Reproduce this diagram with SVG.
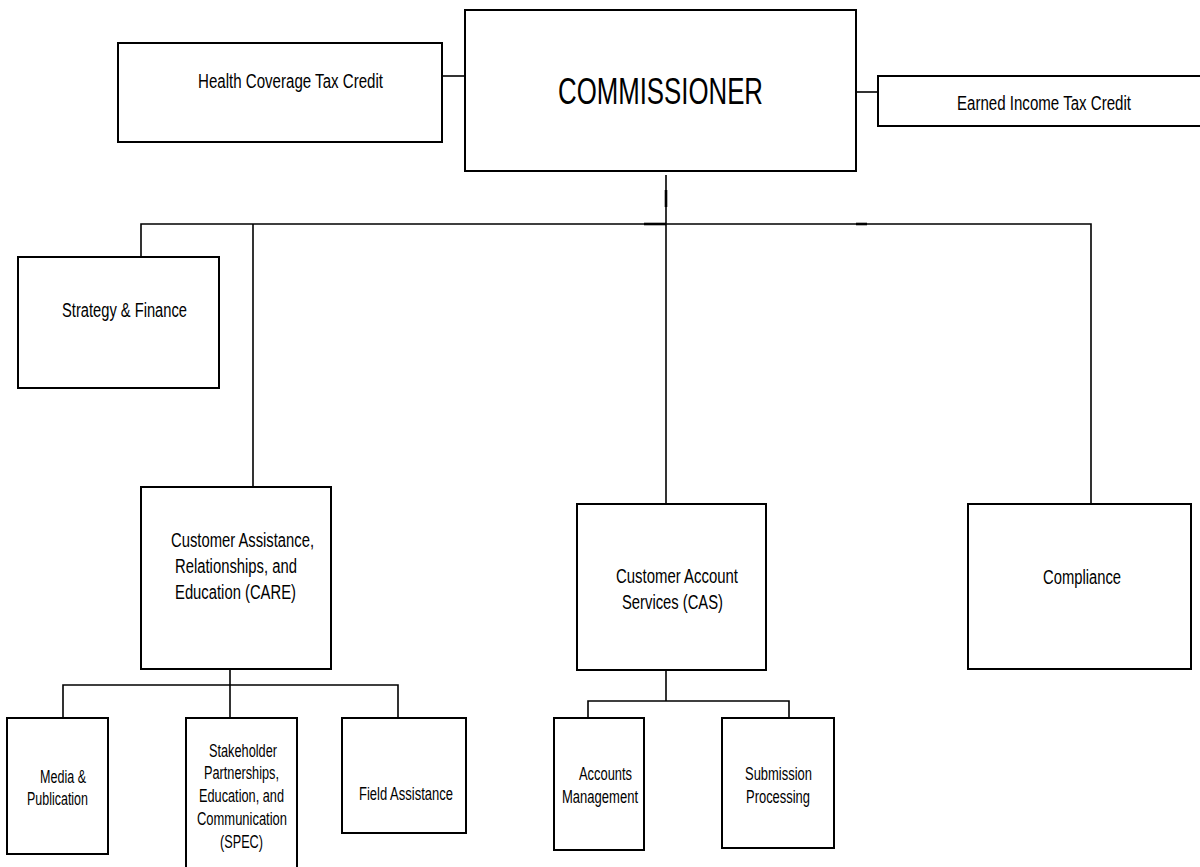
<svg xmlns="http://www.w3.org/2000/svg" width="1200" height="867" viewBox="0 0 1200 867">
<style>
.box{fill:#fff;stroke:#000;stroke-width:2}
.ln{fill:none;stroke:#000;stroke-width:1.6}
.tk{fill:none;stroke:#000;stroke-width:2.6}
text{font-family:"Liberation Sans",Arial,sans-serif;fill:#000}
.t20{font-size:20px}
.t17{font-size:17.5px}
.big{font-size:37px}
</style>
<rect width="1200" height="867" fill="#fff"/>
<g id="connectors">
<line class="ln" x1="442" y1="76" x2="466" y2="76"/>
<line class="ln" x1="856" y1="92" x2="878" y2="92"/>
<line class="ln" x1="666" y1="175" x2="666" y2="504"/>
<polyline class="ln" points="141,257 141,224 1091,224 1091,504"/>
<line class="tk" x1="644" y1="224" x2="666" y2="224"/>
<line class="tk" x1="856" y1="224" x2="867" y2="224"/>
<line class="tk" x1="666" y1="190" x2="666" y2="207"/>
<line class="ln" x1="253" y1="224" x2="253" y2="487"/>
<line class="ln" x1="230" y1="669" x2="230" y2="718"/>
<polyline class="ln" points="63,718 63,685 398,685 398,718"/>
<line class="ln" x1="666" y1="670" x2="666" y2="701"/>
<polyline class="ln" points="588,718 588,701 789,701 789,718"/>
</g>
<g id="hctc">
<rect class="box" x="118" y="43" width="324" height="99"/>
<text class="t20" x="198" y="88" textLength="185" lengthAdjust="spacingAndGlyphs">Health Coverage Tax Credit</text>
</g>
<g id="commissioner">
<rect class="box" x="465" y="10" width="391" height="161"/>
<text class="big" x="558" y="104" textLength="205" lengthAdjust="spacingAndGlyphs">COMMISSIONER</text>
</g>
<g id="eitc">
<rect class="box" x="878" y="76" width="330" height="50"/>
<text class="t20" x="957" y="110" textLength="174" lengthAdjust="spacingAndGlyphs">Earned Income Tax Credit</text>
</g>
<g id="strategy">
<rect class="box" x="18" y="257" width="201" height="131"/>
<text class="t20" x="62" y="317" textLength="125" lengthAdjust="spacingAndGlyphs">Strategy &amp; Finance</text>
</g>
<g id="care">
<rect class="box" x="141" y="487" width="190" height="182"/>
<text class="t20" x="171" y="547" textLength="143" lengthAdjust="spacingAndGlyphs">Customer Assistance,</text>
<text class="t20" x="175" y="573" textLength="122" lengthAdjust="spacingAndGlyphs">Relationships, and</text>
<text class="t20" x="175" y="599" textLength="121" lengthAdjust="spacingAndGlyphs">Education (CARE)</text>
</g>
<g id="cas">
<rect class="box" x="577" y="504" width="189" height="166"/>
<text class="t20" x="616" y="583" textLength="122" lengthAdjust="spacingAndGlyphs">Customer Account</text>
<text class="t20" x="622" y="609" textLength="101" lengthAdjust="spacingAndGlyphs">Services (CAS)</text>
</g>
<g id="compliance">
<rect class="box" x="968" y="504" width="223" height="165"/>
<text class="t20" x="1043" y="584" textLength="78" lengthAdjust="spacingAndGlyphs">Compliance</text>
</g>
<g id="media">
<rect class="box" x="7" y="718" width="101" height="136"/>
<text class="t17" x="40" y="783" textLength="46" lengthAdjust="spacingAndGlyphs">Media &amp;</text>
<text class="t17" x="27" y="805" textLength="61" lengthAdjust="spacingAndGlyphs">Publication</text>
</g>
<g id="spec">
<rect class="box" x="186" y="718" width="111" height="160"/>
<text class="t17" x="209" y="757" textLength="68" lengthAdjust="spacingAndGlyphs">Stakeholder</text>
<text class="t17" x="204" y="779" textLength="75" lengthAdjust="spacingAndGlyphs">Partnerships,</text>
<text class="t17" x="199" y="802" textLength="85" lengthAdjust="spacingAndGlyphs">Education, and</text>
<text class="t17" x="197" y="825" textLength="90" lengthAdjust="spacingAndGlyphs">Communication</text>
<text class="t17" x="220" y="848" textLength="43" lengthAdjust="spacingAndGlyphs">(SPEC)</text>
</g>
<g id="field">
<rect class="box" x="342" y="718" width="124" height="115"/>
<text class="t17" x="359" y="800" textLength="94" lengthAdjust="spacingAndGlyphs">Field Assistance</text>
</g>
<g id="accounts">
<rect class="box" x="554" y="718" width="90" height="132"/>
<text class="t17" x="579" y="780" textLength="53" lengthAdjust="spacingAndGlyphs">Accounts</text>
<text class="t17" x="562" y="803" textLength="76" lengthAdjust="spacingAndGlyphs">Management</text>
</g>
<g id="submission">
<rect class="box" x="722" y="718" width="112" height="130"/>
<text class="t17" x="745" y="780" textLength="67" lengthAdjust="spacingAndGlyphs">Submission</text>
<text class="t17" x="746" y="803" textLength="64" lengthAdjust="spacingAndGlyphs">Processing</text>
</g>
</svg>
